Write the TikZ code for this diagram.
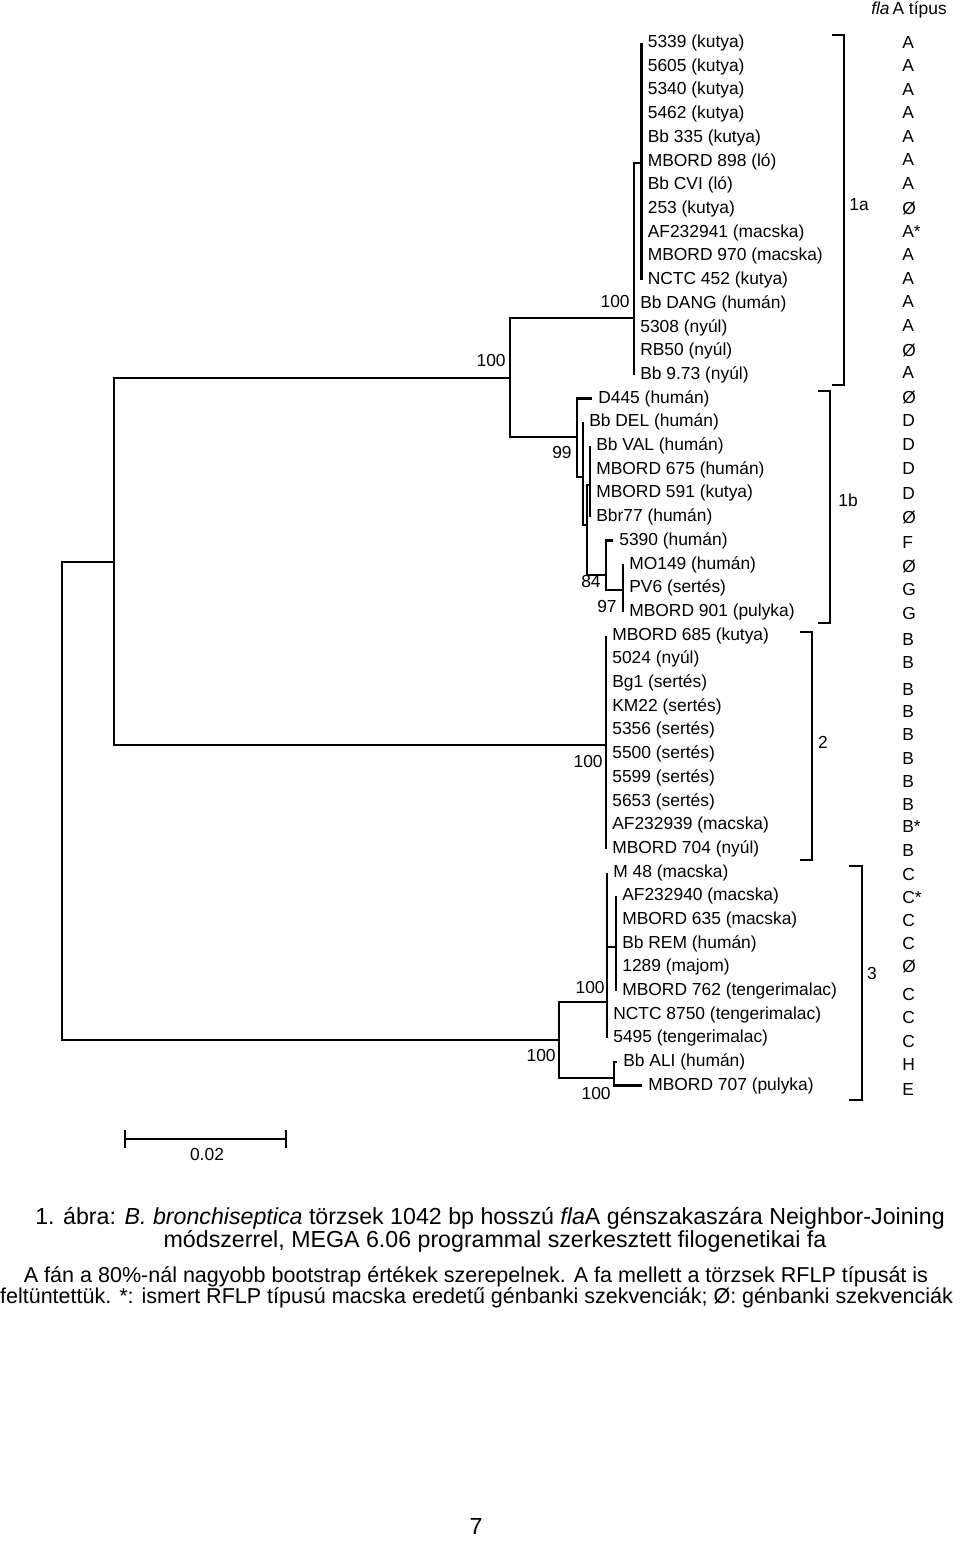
\documentclass[tikz,border=0pt]{standalone}
\usepackage{fontspec}
\setmainfont{Liberation Sans}
\newcommand{\treefont}{\fontsize{9.9}{12}\selectfont}
\newcommand{\titlefont}{\fontsize{13.2}{15}\selectfont}
\newcommand{\capfont}{\fontsize{12.25}{14}\selectfont}

\begin{document}
\begin{tikzpicture}[x=0.2mm, y=-0.2mm,
    branch/.style={line width=1.5pt},
    leaf/.style={anchor=west, inner xsep=3.4pt, inner ysep=0pt, font=\treefont},
    boot/.style={anchor=east, inner sep=0pt, font=\treefont},
    ftype/.style={anchor=west, inner sep=0pt, font=\treefont},
    clade/.style={line width=0.8pt},
    caption/.style={inner sep=0pt, font=\capfont}]
    \useasboundingbox (0,0) rectangle (960,1543);

    % Inner nodes of the tree
    \coordinate (root) at (62,800);
    \coordinate (nU) at (114,562);
    \coordinate (n1) at (510,378);
    \coordinate (n1a) at (634,318);
    \coordinate (n1ai) at (641.5,163);
    \coordinate (n1b) at (577,437);
    \coordinate (nA) at (583,477);
    \coordinate (nB) at (587,525);
    \coordinate (nC) at (590,485);
    \coordinate (n84) at (606,575);
    \coordinate (n97) at (623,590);
    \coordinate (n2) at (606,745);
    \coordinate (n3) at (559,1040);
    \coordinate (n3a) at (607,1002);
    \coordinate (n3c) at (616,947);
    \coordinate (n3b) at (614,1078);

    % Strains (one row = 23.7)
    \foreach \i/\t in {1/5339 (kutya), 2/5605 (kutya), 3/5340 (kutya), 4/5462 (kutya),
        5/Bb 335 (kutya), 6/MBORD 898 (ló), 7/Bb CVI (ló), 8/253 (kutya),
        9/AF232941 (macska), 10/MBORD 970 (macska), 11/NCTC 452 (kutya)}
        \node[leaf] (l\i) at (641.5,{43+23.7*(\i-1)}) {\t};
    \foreach \i/\t in {12/Bb DANG (humán), 13/5308 (nyúl), 14/RB50 (nyúl), 15/Bb 9.73 (nyúl)}
        \node[leaf] (l\i) at (634,{43+23.7*(\i-1)}) {\t};
    \node[leaf] (l16) at (592,{43+23.7*15}) {D445 (humán)};
    \node[leaf] (l17) at (583,{43+23.7*16}) {Bb DEL (humán)};
    \foreach \i/\t in {18/Bb VAL (humán), 19/MBORD 675 (humán), 20/MBORD 591 (kutya), 21/Bbr77 (humán)}
        \node[leaf] (l\i) at (590,{43+23.7*(\i-1)}) {\t};
    \node[leaf] (l22) at (613,{43+23.7*21}) {5390 (humán)};
    \foreach \i/\t in {23/MO149 (humán), 24/PV6 (sertés), 25/MBORD 901 (pulyka)}
        \node[leaf] (l\i) at (623,{43+23.7*(\i-1)}) {\t};
    \foreach \i/\t in {26/MBORD 685 (kutya), 27/5024 (nyúl), 28/Bg1 (sertés), 29/KM22 (sertés),
        30/5356 (sertés), 31/5500 (sertés), 32/5599 (sertés), 33/5653 (sertés),
        34/AF232939 (macska), 35/MBORD 704 (nyúl)}
        \node[leaf] (l\i) at (606,{43+23.7*(\i-1)}) {\t};
    \foreach \i/\t in {36/M 48 (macska), 42/NCTC 8750 (tengerimalac), 43/5495 (tengerimalac)}
        \node[leaf] (l\i) at (607,{43+23.7*(\i-1)}) {\t};
    \foreach \i/\t in {37/AF232940 (macska), 38/MBORD 635 (macska), 39/Bb REM (humán),
        40/1289 (majom), 41/MBORD 762 (tengerimalac)}
        \node[leaf] (l\i) at (616,{43+23.7*(\i-1)}) {\t};
    \node[leaf] (l44) at (617,{43+23.7*43}) {Bb ALI (humán)};
    \node[leaf] (l45) at (642,{43+23.7*44}) {MBORD 707 (pulyka)};

    % Branches
    \draw[branch] (root) |- (nU) (root) |- (n3);
    \draw[branch] (nU) |- (n1) (nU) |- (n2);
    \draw[branch] (n1) |- (n1a) (n1) |- (n1b);
    \draw[branch] (n1a) |- (n1ai);
    \foreach \i in {1,...,11} \draw[branch] (n1ai) |- (l\i.west);
    \foreach \i in {12,...,15} \draw[branch] (n1a) |- (l\i.west);
    \draw[branch] (n1b) |- (l16.west) (n1b) |- (nA);
    \draw[branch] (nA) |- (l17.west) (nA) |- (nB);
    \draw[branch] (nB) |- (nC) (nB) |- (n84);
    \foreach \i in {18,...,21} \draw[branch] (nC) |- (l\i.west);
    \draw[branch] (n84) |- (l22.west) (n84) |- (n97);
    \foreach \i in {23,24,25} \draw[branch] (n97) |- (l\i.west);
    \foreach \i in {26,...,35} \draw[branch] (n2) |- (l\i.west);
    \draw[branch] (n3) |- (n3a) (n3) |- (n3b);
    \foreach \i in {36,42,43} \draw[branch] (n3a) |- (l\i.west);
    \draw[branch] (n3a) |- (n3c);
    \foreach \i in {37,...,41} \draw[branch] (n3c) |- (l\i.west);
    \draw[branch] (n3b) |- (l44.west) (n3b) |- (l45.west);

    % Bootstrap values
    \node[boot] (b1) at (506,361) {100};
    \node[boot] (b1a) at (630,302) {100};
    \node[boot] (b99) at (572,453) {99};
    \node[boot] (b84) at (601,582) {84};
    \node[boot] (b97) at (617,607) {97};
    \node[boot] (b2) at (603,761) {100};
    \node[boot] (b3a) at (605,987) {100};
    \node[boot] (b3) at (556,1055) {100};
    \node[boot] (b3b) at (611,1093) {100};

    % Groups
    \draw[clade] (832,35) -- (844,35) -- (844,385) -- (832,385);
    \draw[clade] (818,391) -- (830,391) -- (830,623) -- (818,623);
    \draw[clade] (800,632) -- (812,632) -- (812,860) -- (800,860);
    \draw[clade] (849,866) -- (862,866) -- (862,1100) -- (849,1100);
    \node[font=\treefont] (g1a) at (859,205) {1a};
    \node[font=\treefont] (g1b) at (848,500) {1b};
    \node[font=\treefont] (g2) at (823,742) {2};
    \node[font=\treefont] (g3) at (872,973) {3};

    % flaA types
    \node[font=\treefont] (head) at (909,10) {\textit{fla}\,A típus};
    \foreach \y/\t [count=\i] in {43/A, 66/A, 90/A, 113/A, 137/A, 160/A, 184/A, 208/Ø, 232/A*,
        255/A, 279/A, 302/A, 326/A, 350/Ø, 373/A, 397/Ø, 421/D, 445/D, 469/D, 494/D, 517/Ø,
        543/F, 566/Ø, 590/G, 614/G, 640/B, 663/B, 690/B, 712/B, 735/B, 759/B, 782/B, 805/B,
        827/B*, 851/B, 874/C, 897/C*, 920/C, 943/C, 966/Ø, 994/C, 1017/C, 1041/C, 1065/H, 1090/E}
        \node[ftype] (t\i) at (902,\y) {\t};

    % Scale bar
    \coordinate (sb1) at (125,1139);
    \coordinate (sb2) at (286,1139);
    \draw[branch] (sb1) -- (sb2);
    \draw[branch] ([yshift=5]sb1) -- ([yshift=-5]sb1) ([yshift=5]sb2) -- ([yshift=-5]sb2);
    \node[font=\treefont] (sbl) at (207,1154) {0.02};

    % Caption
    \node[caption, font=\titlefont] (cap1) at (490,1218) {1. ábra: \textit{B. bronchiseptica} törzsek 1042 bp hosszú \textit{fla}A génszakaszára Neighbor-Joining};
    \node[caption, font=\titlefont] (cap2) at (495,1241) {módszerrel, MEGA 6.06 programmal szerkesztett filogenetikai fa};
    \node[caption] (cap3) at (476,1277) {A fán a 80\%-nál nagyobb bootstrap értékek szerepelnek. A fa mellett a törzsek RFLP típusát is};
    \node[caption] (cap4) at (476.5,1298) {feltüntettük. *: ismert RFLP típusú macska eredetű génbanki szekvenciák; Ø: génbanki szekvenciák};
    \node[caption, font=\titlefont] (page) at (476,1527) {7};
\end{tikzpicture}
\end{document}
